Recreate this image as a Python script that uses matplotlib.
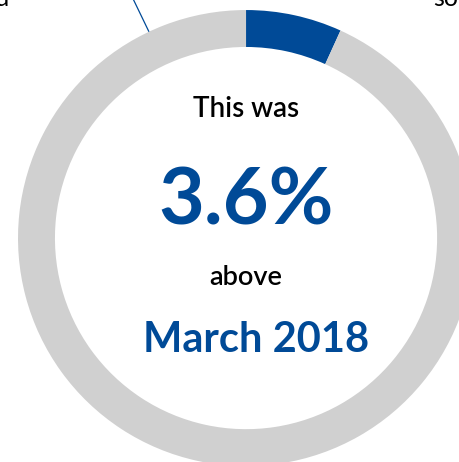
import matplotlib
matplotlib.use("Agg")
import matplotlib.pyplot as plt
import numpy as np

# Data
share_labels = ["Increase", "Rest"]
share_values = [6.8, 93.2]
headline = "This was"
big_value = "3.6%"
middle_word = "above"
reference_period = "March 2018"
clipped_left = "and"
clipped_right = "so"

BLUE = "#004a97"
GREY = "#d0d0d0"

plt.rcParams["font.family"] = ["Lato", "DejaVu Sans"]

fig = plt.figure(figsize=(4.59, 4.62), dpi=100)
ax = fig.add_axes([0, 0, 1, 1])

# Donut ring
ax.pie(share_values, radius=1.0, startangle=90, counterclock=False,
       colors=[BLUE, GREY],
       wedgeprops=dict(width=0.162, linewidth=0))

# Show the ring cropped like the original (centre off to the left / top)
ax.set_xlim(-1.079, 0.934)
ax.set_ylim(-0.982, 1.044)
ax.set_aspect("auto")
ax.axis("off")

# Leader line from a label outside the crop
ang = np.deg2rad(90 + 25.2)
x0, y0 = np.cos(ang), np.sin(ang)
ax.plot([x0, x0 - 0.07], [y0, y0 + 0.145], color=BLUE, lw=0.9,
        solid_capstyle="butt", clip_on=False)

# Centre texts
ax.text(0.0, 0.531, headline, ha="center", va="baseline",
        fontsize=20, color="black", fontweight="semibold")
ax.text(0.0, 0.061, big_value, ha="center", va="baseline",
        fontsize=57, color=BLUE, fontweight="bold")
ax.text(0.0, -0.206, middle_word, ha="center", va="baseline",
        fontsize=19.5, color="black", fontweight="semibold")
ax.text(0.044, -0.5, reference_period, ha="center", va="baseline",
        fontsize=30, color=BLUE, fontweight="bold")

# Labels cut off by the crop
fig.text(10 / 459, 1 - 6 / 462, clipped_left, ha="right", va="baseline",
         fontsize=18, color="black")
fig.text(433 / 459, 1 - 6 / 462, clipped_right, ha="left", va="baseline",
         fontsize=18, color="black")

fig.savefig("out.png", dpi=100)
